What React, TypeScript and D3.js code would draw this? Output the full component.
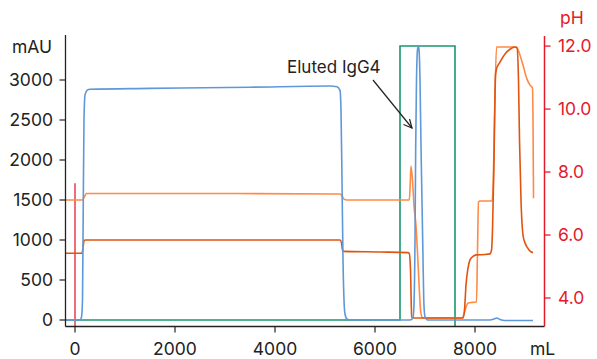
import React from "react";
import * as d3 from "d3";

// ---- data (mL, value) ----
const uvVolume = [-180, 100, 130, 150, 166, 180, 200, 240, 300, 1500, 3500, 5100, 5240, 5300, 5320, 5340, 5360, 5380, 5400, 5440, 5500, 6700, 6760, 6780, 6800, 6814, 6830, 6850, 6866, 6880, 6900, 6920, 6954, 6975, 7000, 7050, 8300, 8380, 8440, 8500, 8600, 9160];
const uvMAU = [0, 0, 38, 250, 1500, 2500, 2810, 2870, 2885, 2895, 2910, 2925, 2915, 2870, 2620, 1750, 750, 250, 75, 12, 0, 0, 25, 200, 1000, 2175, 3000, 3380, 3425, 3380, 3000, 2175, 1000, 250, 40, 0, 0, 12, 25, 6, -6, -6];

const phAVolume = [-180, 150, 190, 230, 2500, 5300, 5340, 5380, 5440, 6686, 6704, 6720, 6754, 6780, 6820, 6846, 6886, 6914, 6954, 7000, 7740, 7780, 7820, 7860, 7940, 8030, 8050, 8070, 8100, 8340, 8360, 8390, 8430, 8830, 8900, 8960, 9030, 9100, 9150, 9160, 9170];
const phAValue = [7.11, 7.11, 7.22, 7.32, 7.32, 7.3, 7.24, 7.14, 7.11, 7.11, 7.6, 8.19, 7.65, 6.93, 6.3, 5.56, 4.29, 3.56, 3.37, 3.365, 3.365, 3.49, 3.71, 3.84, 3.86, 3.87, 5.49, 7.05, 7.08, 7.08, 7.43, 9.65, 11.97, 11.97, 11.71, 11.4, 10.99, 10.76, 10.67, 9.65, 7.17];

const phBVolume = [-180, 140, 160, 180, 210, 2500, 5300, 5330, 5354, 5380, 6100, 6660, 6686, 6710, 6734, 6760, 7760, 7790, 7820, 7860, 7900, 7960, 8020, 8200, 8300, 8330, 8350, 8380, 8410, 8430, 8500, 8600, 8700, 8800, 8840, 8870, 8890, 8920, 8960, 9000, 9040, 9100, 9160];
const phBValue = [5.42, 5.42, 5.59, 5.81, 5.84, 5.84, 5.84, 5.75, 5.49, 5.48, 5.46, 5.44, 5.41, 4.89, 3.41, 3.365, 3.365, 3.62, 4.41, 4.95, 5.21, 5.32, 5.37, 5.38, 5.4, 5.52, 6.16, 8.38, 11.08, 11.27, 11.49, 11.75, 11.9, 11.97, 11.94, 10.92, 9.02, 7.11, 6.0, 5.75, 5.62, 5.49, 5.44];

const fractionVolume = [-180, 6500, 6500, 7600, 7600];
const fractionMAU = [0, 0, 3425, 3425, -75];

const injectionVolume = 0;
const injectionTopMAU = 1710;

const xTicks = [0, 2000, 4000, 6000, 8000];
const yTicks = [0, 500, 1000, 1500, 2000, 2500, 3000];
const phTicks = [4, 6, 8, 10, 12];

const W = 597;
const H = 359;
const FONT = "Inter, Roboto, 'Noto Sans', sans-serif";
const FS = 17.5;

export default function App() {
  const x = d3.scaleLinear().domain([-190, 9390]).range([65.5, 544.5]);
  const y = d3.scaleLinear().domain([-75, 3550]).range([326, 36]);
  const yPH = d3.scaleLinear().domain([3.11, 12.32]).range([326, 36]);

  const mk = (xs: number[], ys: number[], ys2: (v: number) => number) =>
    d3
      .line<number>()
      .x((_, i) => x(xs[i]))
      .y((_, i) => ys2(ys[i]))
      .curve(d3.curveMonotoneX)(xs);

  const uvPath = mk(uvVolume, uvMAU, y);
  const phAPath = mk(phAVolume, phAValue, yPH);
  const phBPath = mk(phBVolume, phBValue, yPH);
  const fracPath = d3
    .line<number>()
    .x((_, i) => x(fractionVolume[i]))
    .y((_, i) => y(fractionMAU[i]))(fractionVolume);

  const left = 65.5;
  const right = 544.5;
  const bottom = 326.5;

  return (
    <svg width={W} height={H} style={{ position: "absolute", left: 0, top: 0 }} fontFamily={FONT}>
      <rect width={W} height={H} fill="#fff" />
      {/* fraction box / baseline */}
      <path d={fracPath || ""} fill="none" stroke="#1a9670" strokeWidth={1.6} />
      {/* injection marker */}
      <line x1={x(injectionVolume)} x2={x(injectionVolume)} y1={y(injectionTopMAU)} y2={bottom} stroke="#ec5f6a" strokeWidth={1.8} />
      {/* series */}
      <path d={phAPath || ""} fill="none" stroke="#ff8a45" strokeWidth={1.6} />
      <path d={phBPath || ""} fill="none" stroke="#df5510" strokeWidth={1.6} />
      <path d={uvPath || ""} fill="none" stroke="#5f98d8" strokeWidth={1.6} />

      {/* left axis */}
      <line x1={left} x2={left} y1={35} y2={bottom} stroke="#222" strokeWidth={1.3} />
      {yTicks.map((t) => (
        <g key={t}>
          <line x1={left - 6} x2={left} y1={y(t)} y2={y(t)} stroke="#222" strokeWidth={1.2} />
          <text x={53} y={y(t)} dy="0.35em" textAnchor="end" fontSize={FS} fill="#222">
            {t}
          </text>
        </g>
      ))}
      <text x={12} y={53} fontSize={FS} fill="#222">mAU</text>

      {/* bottom axis */}
      <line x1={left} x2={right} y1={bottom} y2={bottom} stroke="#222" strokeWidth={1.3} />
      {xTicks.map((t) => (
        <g key={t}>
          <line x1={x(t)} x2={x(t)} y1={bottom} y2={bottom + 6} stroke="#222" strokeWidth={1.2} />
          <text x={x(t)} y={355} textAnchor="middle" fontSize={FS} fill="#222">
            {t}
          </text>
        </g>
      ))}
      <text x={530} y={355} fontSize={FS} fill="#222">mL</text>

      {/* right axis */}
      <line x1={right} x2={right} y1={36} y2={bottom} stroke="#e31a2b" strokeWidth={1.5} />
      {phTicks.map((t) => (
        <g key={t}>
          <line x1={right} x2={right + 6} y1={yPH(t)} y2={yPH(t)} stroke="#e31a2b" strokeWidth={1.3} />
          <text x={558} y={yPH(t)} dy="0.35em" fontSize={FS} fill="#e31a2b">
            {t.toFixed(1)}
          </text>
        </g>
      ))}
      <text x={560} y={24} fontSize={FS} fill="#e31a2b">pH</text>

      {/* annotation */}
      <text x={287} y={73} fontSize={17} fill="#222">Eluted IgG4</text>
      <line x1={373} y1={80} x2={412} y2={128} stroke="#222" strokeWidth={1.2} />
      <path d="M 403.5 124.5 L 412 128 L 409.5 119" fill="none" stroke="#222" strokeWidth={1.2} />
    </svg>
  );
}
